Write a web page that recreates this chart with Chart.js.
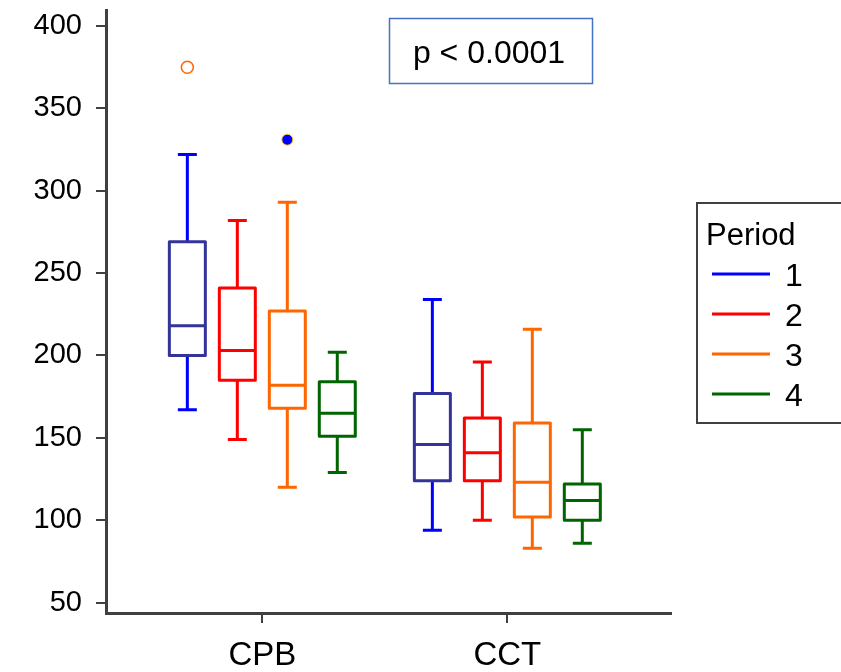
<!DOCTYPE html>
<html>
<head>
<meta charset="utf-8">
<script src="https://cdn.jsdelivr.net/npm/chart.js@4/dist/chart.umd.min.js"></script>
<style>
html,body{margin:0;padding:0;background:#fff;}
#wrap{width:841px;height:672px;position:relative;}
canvas{display:block;}
</style>
</head>
<body>
<div id="wrap"><canvas id="c" width="841" height="672" style="width:841px;height:672px"></canvas></div>
<script>
// ---- data (rows: group CPB, CCT; columns: period 1..4) ----
const groups = ['CPB', 'CCT'];
const periods = ['1', '2', '3', '4'];
const whiskerMin = [[167, 149, 120, 129], [94, 100, 83, 86]];
const quartile1  = [[200, 185, 168, 151], [124, 124, 102, 100]];
const medians    = [[218, 203, 182, 165], [146, 141, 123, 112]];
const quartile3  = [[269, 241, 227, 184], [177, 162, 159, 122]];
const whiskerMax = [[322, 282, 293, 202], [234, 196, 216, 155]];
const outlierGroup  = [0, 0];
const outlierPeriod = [0, 2];
const outlierValue  = [375, 331];
const yTicks = [50, 100, 150, 200, 250, 300, 350, 400];
const pText = 'p < 0.0001';
const legendTitle = 'Period';

// ---- styles ----
const whiskerColors = ['#0000ff', '#ff0000', '#ff6600', '#006400'];
const boxColors     = ['#333399', '#ff0000', '#ff6600', '#006400'];
const periodStep = 0.204;
const axisGray = '#404040';

function xPos(g, p) { return g + 1 + (p - 1.5) * periodStep; }

const outlierPoints = outlierValue.map((v, i) => ({x: xPos(outlierGroup[i], outlierPeriod[i]), y: v}));

const boxPlugin = {
  id: 'boxes',
  beforeDatasetsDraw(chart) {
    const ctx = chart.ctx, xs = chart.scales.x, ys = chart.scales.y;
    const halfBox = 18, halfCap = 9.5;
    ctx.save();
    ctx.lineCap = 'butt';
    ctx.lineJoin = 'round';
    ctx.lineWidth = 3;
    for (let g = 0; g < groups.length; g++) {
      for (let p = 0; p < periods.length; p++) {
        const cx = xs.getPixelForValue(xPos(g, p));
        const yMin = ys.getPixelForValue(whiskerMin[g][p]);
        const yQ1 = ys.getPixelForValue(quartile1[g][p]);
        const yMed = ys.getPixelForValue(medians[g][p]);
        const yQ3 = ys.getPixelForValue(quartile3[g][p]);
        const yMax = ys.getPixelForValue(whiskerMax[g][p]);
        ctx.strokeStyle = whiskerColors[p];
        ctx.beginPath();
        ctx.moveTo(cx, yMax); ctx.lineTo(cx, yQ3);
        ctx.moveTo(cx, yQ1); ctx.lineTo(cx, yMin);
        ctx.moveTo(cx - halfCap, yMax); ctx.lineTo(cx + halfCap, yMax);
        ctx.moveTo(cx - halfCap, yMin); ctx.lineTo(cx + halfCap, yMin);
        ctx.stroke();
        ctx.strokeStyle = boxColors[p];
        ctx.beginPath();
        ctx.rect(cx - halfBox, yQ3, halfBox * 2, yQ1 - yQ3);
        ctx.moveTo(cx - halfBox, yMed); ctx.lineTo(cx + halfBox, yMed);
        ctx.stroke();
      }
    }
    ctx.restore();
  },
  afterDraw(chart) {
    const ctx = chart.ctx;
    ctx.save();
    // p-value box
    ctx.strokeStyle = '#4472c4';
    ctx.lineWidth = 1.5;
    ctx.strokeRect(389.5, 18.5, 203, 65);
    ctx.fillStyle = '#000';
    ctx.font = '32px "Liberation Sans", Arial, sans-serif';
    ctx.textAlign = 'center';
    ctx.textBaseline = 'alphabetic';
    ctx.fillText(pText, 489, 63);
    // legend
    ctx.strokeStyle = axisGray;
    ctx.lineWidth = 2;
    ctx.strokeRect(697, 203, 160, 220);
    ctx.textAlign = 'left';
    ctx.font = '31px "Liberation Sans", Arial, sans-serif';
    ctx.fillText(legendTitle, 706, 245);
    ctx.font = '32px "Liberation Sans", Arial, sans-serif';
    periods.forEach((lab, i) => {
      const y = 274 + i * 40;
      ctx.strokeStyle = whiskerColors[i];
      ctx.lineWidth = 3;
      ctx.beginPath();
      ctx.moveTo(712, y); ctx.lineTo(770, y);
      ctx.stroke();
      ctx.fillText(lab, 785, y + 11.5);
    });
    ctx.restore();
  }
};

new Chart(document.getElementById('c'), {
  type: 'scatter',
  data: {
    datasets: [{
      label: 'outliers',
      data: outlierPoints,
      pointRadius: [6, 5.5],
      pointBackgroundColor: ['rgba(255,255,255,0)', '#0000ff'],
      pointBorderColor: ['#ff6600', '#ffcc33'],
      pointBorderWidth: [1.5, 1],
      pointHoverRadius: 6
    }]
  },
  options: {
    responsive: false,
    maintainAspectRatio: false,
    animation: false,
    devicePixelRatio: 1,
    layout: {padding: {left: 0, top: 10, right: 170, bottom: 0}},
    plugins: {legend: {display: false}, tooltip: {enabled: false}},
    scales: {
      x: {
        type: 'linear',
        min: 0.362, max: 2.668,
        afterBuildTicks(s) { s.ticks = groups.map((g, i) => ({value: i + 1})); },
        afterFit(s) { s.height = 59; s.paddingLeft = 0; s.paddingRight = 0; },
        ticks: {
          callback: v => groups[v - 1],
          color: '#000',
          font: {family: '"Liberation Sans", Arial, sans-serif', size: 33},
          padding: 13,
          maxRotation: 0,
          autoSkip: false
        },
        grid: {drawOnChartArea: false, tickLength: 10, color: axisGray, lineWidth: 2},
        border: {color: axisGray, width: 3}
      },
      y: {
        type: 'linear',
        min: 43.7, max: 409.7,
        afterBuildTicks(s) { s.ticks = yTicks.map(v => ({value: v})); },
        afterFit(s) { s.width = 106; s.paddingTop = 0; s.paddingBottom = 0; },
        ticks: {
          color: '#000',
          font: {family: '"Liberation Sans", Arial, sans-serif', size: 29},
          padding: 14,
          autoSkip: false
        },
        grid: {drawOnChartArea: false, tickLength: 10, color: axisGray, lineWidth: 2},
        border: {color: axisGray, width: 3}
      }
    }
  },
  plugins: [boxPlugin]
});
</script>
</body>
</html>
